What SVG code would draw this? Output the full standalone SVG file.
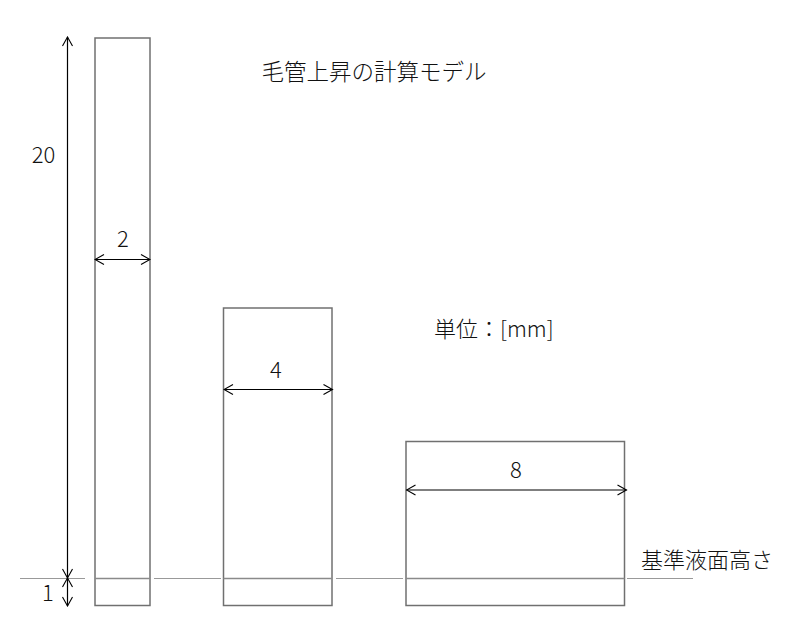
<svg xmlns="http://www.w3.org/2000/svg" width="800" height="631" viewBox="0 0 800 631">
<style>
text{font-family:"Noto Sans CJK JP","Noto Sans",sans-serif;font-size:22px;fill:#111;font-weight:300}
.title{font-size:22.5px}
.tube{fill:#fff;stroke:#707070;stroke-width:1.5}
.inner{stroke:#8a8a8a;stroke-width:1.5}
.base{stroke:#999;stroke-width:1.2}
.dim{stroke:#000;stroke-width:1.2;fill:none;marker-start:url(#ah);marker-end:url(#ah)}
</style>
<defs>
<marker id="ah" markerUnits="userSpaceOnUse" viewBox="-10 -6 11 12" refX="0" refY="0" markerWidth="11" markerHeight="12" orient="auto-start-reverse">
<path d="M-9,-5 L0,0 L-9,5" fill="none" stroke="#000" stroke-width="1.1"/>
</marker>
</defs>
<g id="baseline">
<line class="base" x1="20" y1="578.5" x2="85" y2="578.5"/>
<line class="base" x1="154" y1="578.5" x2="221" y2="578.5"/>
<line class="base" x1="336" y1="578.5" x2="403" y2="578.5"/>
<line class="base" x1="627" y1="578.5" x2="693" y2="578.5"/>
</g>
<g id="tube1">
<rect class="tube" x="95" y="38" width="55" height="567.5"/>
<line class="inner" x1="95" y1="578.5" x2="150" y2="578.5"/>
</g>
<g id="tube2">
<rect class="tube" x="223.5" y="308" width="108.5" height="297.5"/>
<line class="inner" x1="223.5" y1="578.5" x2="332" y2="578.5"/>
</g>
<g id="tube3">
<rect class="tube" x="406" y="441.5" width="218.5" height="164"/>
<line class="inner" x1="406" y1="578.5" x2="624.5" y2="578.5"/>
</g>
<g id="connectors">
<line class="dim" x1="67.5" y1="37" x2="67.5" y2="578"/>
<line class="dim" x1="67.5" y1="578" x2="67.5" y2="606"/>
<line class="dim" x1="95" y1="259.5" x2="150" y2="259.5"/>
<line class="dim" x1="224" y1="389.5" x2="332.5" y2="389.5"/>
<line class="dim" x1="406.5" y1="490" x2="626.5" y2="490"/>
</g>
<g id="labels">
<text x="43.5" y="163" text-anchor="middle">20</text>
<text x="48" y="601" text-anchor="middle">1</text>
<text x="123" y="247" text-anchor="middle">2</text>
<text x="276" y="378" text-anchor="middle">4</text>
<text x="516" y="478" text-anchor="middle">8</text>
<text class="title" x="374" y="80" text-anchor="middle">毛管上昇の計算モデル</text>
<text x="434" y="337">単位：[mm]</text>
<text x="641" y="568">基準液面高さ</text>
</g>
</svg>
